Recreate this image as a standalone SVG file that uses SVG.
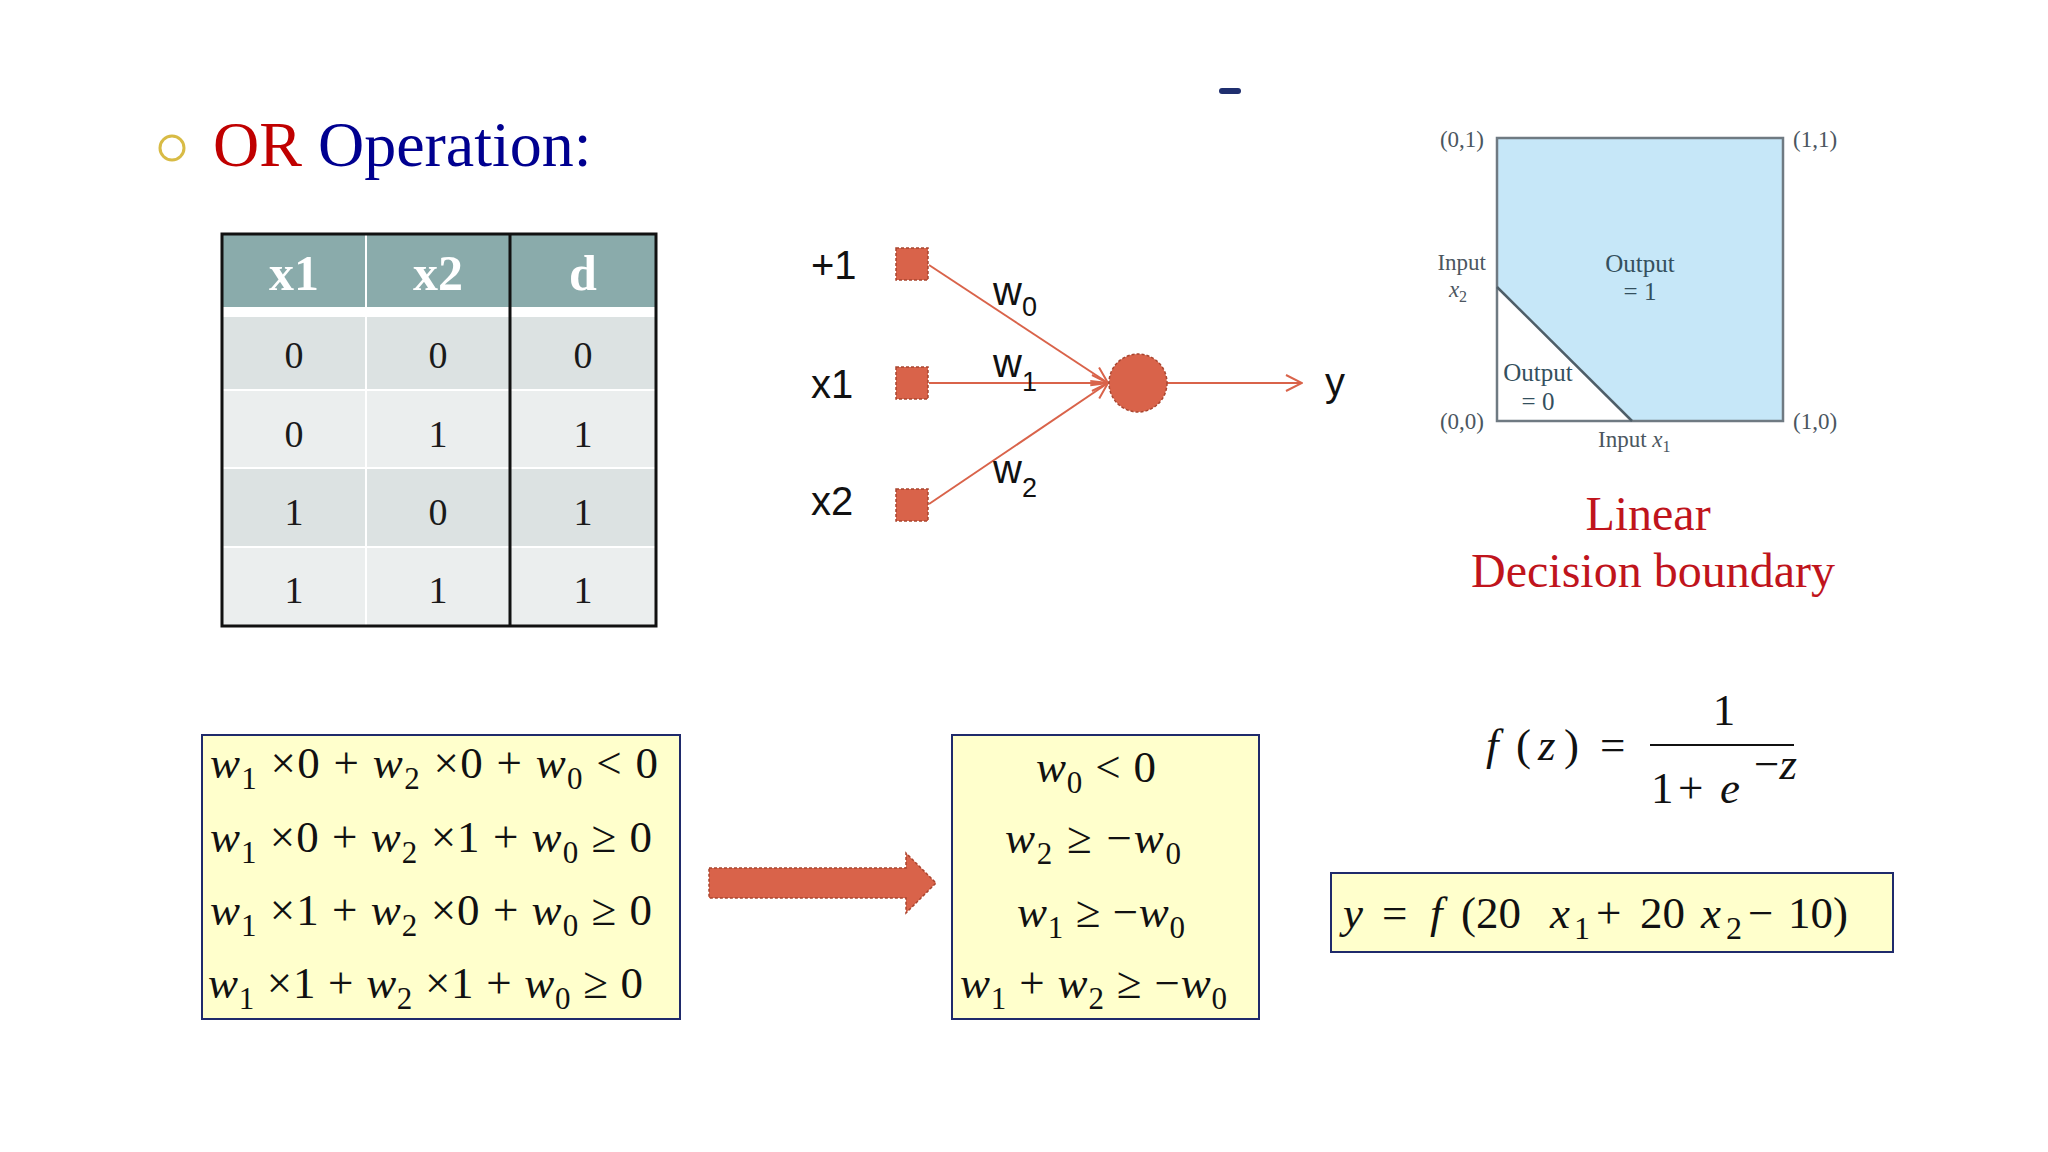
<svg xmlns="http://www.w3.org/2000/svg" width="2048" height="1152" viewBox="0 0 2048 1152">
<defs>
<style>
.serif{font-family:"Liberation Serif","Times New Roman",serif}
.sans{font-family:"Liberation Sans",Arial,sans-serif}
.i{font-style:italic}
.hdr{font-family:"Liberation Serif",serif;font-weight:bold;font-size:50px;fill:#ffffff;text-anchor:middle}
.cell{font-family:"Liberation Serif",serif;font-size:38px;fill:#1a1a1a;text-anchor:middle}
.node{fill:#d9634a;stroke:#a9452f;stroke-width:1.5;stroke-dasharray:3 2}
.edge{stroke:#d9634a;stroke-width:2;fill:none}
.lbl{font-family:"Liberation Sans",Arial,sans-serif;font-size:40px;fill:#111111}
.wl{font-family:"Liberation Sans",Arial,sans-serif;font-size:40px;fill:#111111}
.ws{font-family:"Liberation Sans",Arial,sans-serif;font-size:27px;fill:#111111}
.plt{font-family:"Liberation Serif",serif;font-size:23px;fill:#4b5660}
.out{font-family:"Liberation Serif",serif;font-size:25px;fill:#34505e;text-anchor:middle}
.eqbox{fill:#ffffcc;stroke:#1f2a6b;stroke-width:2}
.eq{font-family:"Liberation Serif",serif;font-size:45px;fill:#111111}
.sb{font-size:31px}
</style>
<marker id="open" viewBox="0 0 18 18" refX="17" refY="9" markerWidth="18" markerHeight="18" markerUnits="userSpaceOnUse" orient="auto">
<path d="M1,1 L17,9 L1,17" fill="none" stroke="#d9634a" stroke-width="2"/>
</marker>
</defs>
<rect width="2048" height="1152" fill="#ffffff"/>

<g id="title">
<circle cx="172" cy="148" r="12" fill="none" stroke="#d8bb45" stroke-width="3"/>
<text x="213" y="166" class="serif" font-size="64"><tspan fill="#c00000">OR</tspan><tspan fill="#000090"> Operation:</tspan></text>
<rect x="1219" y="88" width="22" height="6" rx="3" fill="#1f2f6f"/>
</g>

<g id="truth-table">
<rect x="222" y="234" width="434" height="73" fill="#8aabab"/>
<rect x="222" y="307" width="434" height="10" fill="#ffffff"/>
<rect x="222" y="317" width="434" height="73" fill="#dce2e2"/>
<rect x="222" y="390" width="434" height="78" fill="#ebeeee"/>
<rect x="222" y="468" width="434" height="79" fill="#dce2e2"/>
<rect x="222" y="547" width="434" height="79" fill="#ebeeee"/>
<g stroke="#ffffff" stroke-width="2">
<line x1="222" y1="390" x2="656" y2="390"/>
<line x1="222" y1="468" x2="656" y2="468"/>
<line x1="222" y1="547" x2="656" y2="547"/>
<line x1="366" y1="234" x2="366" y2="626"/>
</g>
<g stroke="#111111" stroke-width="3" fill="none">
<rect x="222" y="234" width="434" height="392"/>
<line x1="510" y1="234" x2="510" y2="626"/>
</g>
<text class="hdr" x="294" y="290">x1</text>
<text class="hdr" x="438" y="290">x2</text>
<text class="hdr" x="583" y="290">d</text>
<text class="cell" x="294" y="368">0</text><text class="cell" x="438" y="368">0</text><text class="cell" x="583" y="368">0</text>
<text class="cell" x="294" y="447">0</text><text class="cell" x="438" y="447">1</text><text class="cell" x="583" y="447">1</text>
<text class="cell" x="294" y="525">1</text><text class="cell" x="438" y="525">0</text><text class="cell" x="583" y="525">1</text>
<text class="cell" x="294" y="603">1</text><text class="cell" x="438" y="603">1</text><text class="cell" x="583" y="603">1</text>
</g>

<g id="connectors">
<line class="edge" x1="929" y1="265" x2="1108" y2="383" marker-end="url(#open)"/>
<line class="edge" x1="929" y1="383" x2="1108" y2="383" marker-end="url(#open)"/>
<line class="edge" x1="929" y1="504" x2="1108" y2="383" marker-end="url(#open)"/>
<line class="edge" x1="1167" y1="383" x2="1302" y2="383" marker-end="url(#open)"/>
<g id="arrow-block">
<path d="M709,868 L906,868 L906,853 L936,883 L906,913 L906,898 L709,898 Z" fill="#d9634a" stroke="#a9452f" stroke-width="1.5" stroke-dasharray="3 2"/>
</g>
</g>

<g id="node-bias">
<rect class="node" x="896" y="248" width="32" height="32"/>
<text class="lbl" x="811" y="279">+1</text>
</g>
<g id="node-x1">
<rect class="node" x="896" y="367" width="32" height="32"/>
<text class="lbl" x="811" y="398">x1</text>
</g>
<g id="node-x2">
<rect class="node" x="896" y="489" width="32" height="32"/>
<text class="lbl" x="811" y="515">x2</text>
</g>
<g id="node-neuron">
<circle class="node" cx="1138" cy="383" r="29"/>
</g>
<g id="label-y">
<text class="lbl" x="1325" y="396">y</text>
</g>
<g id="weights">
<text class="wl" x="993" y="305">w</text><text class="ws" x="1022" y="316">0</text>
<text class="wl" x="993" y="377">w</text><text class="ws" x="1022" y="391">1</text>
<text class="wl" x="993" y="483">w</text><text class="ws" x="1022" y="497">2</text>
</g>

<g id="decision-plot">
<polygon points="1497,138 1783,138 1783,421 1632,421 1497,287" fill="#c6e7f8"/>
<rect x="1497" y="138" width="286" height="283" fill="none" stroke="#6f7a82" stroke-width="2.5"/>
<line x1="1497" y1="287" x2="1632" y2="421" stroke="#4e5e68" stroke-width="2.5"/>
<text class="plt" x="1484" y="147" text-anchor="end">(0,1)</text>
<text class="plt" x="1793" y="147">(1,1)</text>
<text class="plt" x="1484" y="429" text-anchor="end">(0,0)</text>
<text class="plt" x="1793" y="429">(1,0)</text>
<text class="plt" x="1486" y="270" text-anchor="end">Input</text>
<text class="plt" x="1458" y="297" text-anchor="middle"><tspan class="i">x</tspan><tspan font-size="16" dy="5">2</tspan></text>
<text class="plt" x="1598" y="447">Input <tspan class="i">x</tspan><tspan font-size="16" dy="5">1</tspan></text>
<text class="out" x="1640" y="272">Output</text>
<text class="out" x="1640" y="300">= 1</text>
<text class="out" x="1538" y="381">Output</text>
<text class="out" x="1538" y="410">= 0</text>
<text class="serif" x="1648" y="530" font-size="48" fill="#c0141c" text-anchor="middle">Linear</text>
<text class="serif" x="1653" y="587" font-size="48" fill="#c0141c" text-anchor="middle">Decision boundary</text>
</g>

<g id="constraints-box">
<rect class="eqbox" x="202" y="735" width="478" height="284"/>
<text class="eq" x="210" y="778" textLength="448" lengthAdjust="spacing"><tspan class="i">w</tspan><tspan class="sb" dy="11">1</tspan><tspan dy="-11"> ×0 + </tspan><tspan class="i">w</tspan><tspan class="sb" dy="11">2</tspan><tspan dy="-11"> ×0  + </tspan><tspan class="i">w</tspan><tspan class="sb" dy="11">0</tspan><tspan dy="-11"> &lt; 0</tspan></text>
<text class="eq" x="210" y="852" textLength="442" lengthAdjust="spacing"><tspan class="i">w</tspan><tspan class="sb" dy="11">1</tspan><tspan dy="-11"> ×0 + </tspan><tspan class="i">w</tspan><tspan class="sb" dy="11">2</tspan><tspan dy="-11"> ×1  + </tspan><tspan class="i">w</tspan><tspan class="sb" dy="11">0</tspan><tspan dy="-11"> ≥ 0</tspan></text>
<text class="eq" x="210" y="925" textLength="442" lengthAdjust="spacing"><tspan class="i">w</tspan><tspan class="sb" dy="11">1</tspan><tspan dy="-11"> ×1 + </tspan><tspan class="i">w</tspan><tspan class="sb" dy="11">2</tspan><tspan dy="-11"> ×0  + </tspan><tspan class="i">w</tspan><tspan class="sb" dy="11">0</tspan><tspan dy="-11"> ≥ 0</tspan></text>
<text class="eq" x="208" y="998" textLength="435" lengthAdjust="spacing"><tspan class="i">w</tspan><tspan class="sb" dy="11">1</tspan><tspan dy="-11"> ×1 + </tspan><tspan class="i">w</tspan><tspan class="sb" dy="11">2</tspan><tspan dy="-11"> ×1  + </tspan><tspan class="i">w</tspan><tspan class="sb" dy="11">0</tspan><tspan dy="-11"> ≥ 0</tspan></text>
</g>

<g id="result-box">
<rect class="eqbox" x="952" y="735" width="307" height="284"/>
<text class="eq" x="1036" y="782" textLength="120" lengthAdjust="spacing"><tspan class="i">w</tspan><tspan class="sb" dy="11">0</tspan><tspan dy="-11"> &lt; 0</tspan></text>
<text class="eq" x="1005" y="853" textLength="176" lengthAdjust="spacing"><tspan class="i">w</tspan><tspan class="sb" dy="11">2</tspan><tspan dy="-11"> ≥ −</tspan><tspan class="i">w</tspan><tspan class="sb" dy="11">0</tspan></text>
<text class="eq" x="1017" y="927" textLength="168" lengthAdjust="spacing"><tspan class="i">w</tspan><tspan class="sb" dy="11">1</tspan><tspan dy="-11"> ≥ −</tspan><tspan class="i">w</tspan><tspan class="sb" dy="11">0</tspan></text>
<text class="eq" x="960" y="998" textLength="267" lengthAdjust="spacing"><tspan class="i">w</tspan><tspan class="sb" dy="11">1</tspan><tspan dy="-11"> + </tspan><tspan class="i">w</tspan><tspan class="sb" dy="11">2</tspan><tspan dy="-11"> ≥ −</tspan><tspan class="i">w</tspan><tspan class="sb" dy="11">0</tspan></text>
</g>

<g id="sigmoid">
<text class="eq" y="760" font-size="52"><tspan class="i" x="1486">f</tspan><tspan x="1516">(</tspan><tspan class="i" x="1538">z</tspan><tspan x="1564">)</tspan><tspan x="1600">=</tspan></text>
<line x1="1650" y1="745" x2="1794" y2="745" stroke="#111111" stroke-width="2"/>
<text class="eq" x="1724" y="725" font-size="52" text-anchor="middle">1</text>
<text class="eq" y="803" font-size="52"><tspan x="1651">1</tspan><tspan x="1678">+</tspan><tspan class="i" x="1720">e</tspan></text>
<text class="eq" x="1754" y="779" font-size="25">−<tspan class="i">z</tspan></text>
</g>

<g id="output-formula">
<rect class="eqbox" x="1331" y="873" width="562" height="79"/>
<text class="eq" y="928" font-size="56"><tspan class="i" x="1343">y</tspan><tspan x="1382">=</tspan><tspan class="i" x="1430">f</tspan><tspan x="1461">(20</tspan><tspan class="i" x="1550">x</tspan><tspan font-size="32" x="1574" y="939">1</tspan><tspan x="1596" y="928">+</tspan><tspan x="1640">20</tspan><tspan class="i" x="1701">x</tspan><tspan font-size="32" x="1726" y="939">2</tspan><tspan x="1748" y="928">−</tspan><tspan x="1788">10)</tspan></text>
</g>
</svg>
